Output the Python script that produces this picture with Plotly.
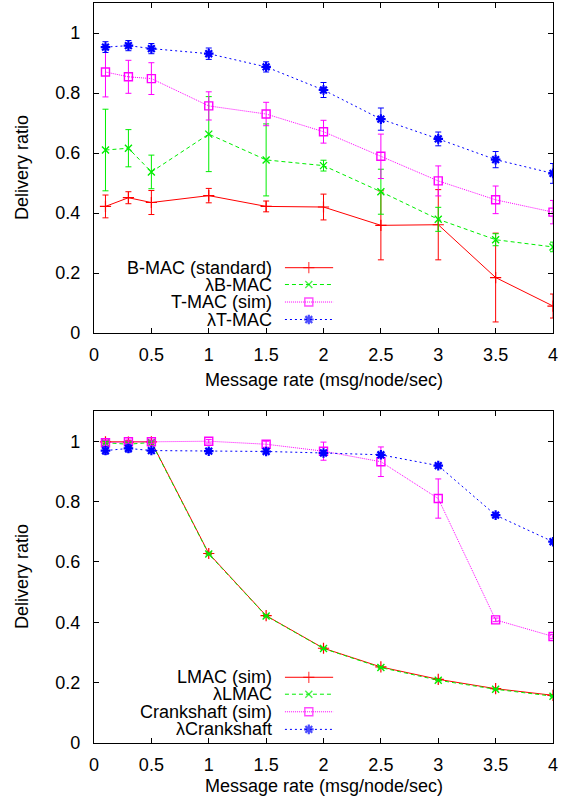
import plotly.graph_objects as go

# ---------------- data ----------------
rates = [0.1, 0.3, 0.5, 1, 1.5, 2, 2.5, 3, 3.5, 4]

# Top panel
bmac = [0.422, 0.451, 0.435, 0.458, 0.422, 0.420, 0.359, 0.361, 0.185, 0.090]
bmac_err = [0.038, 0.020, 0.040, 0.024, 0.018, 0.043, 0.115, 0.117, 0.148, 0.040]
lbmac = [0.610, 0.616, 0.537, 0.663, 0.577, 0.558, 0.471, 0.379, 0.311, 0.287]
lbmac_err = [0.136, 0.062, 0.056, 0.125, 0.120, 0.018, 0.075, 0.040, 0.020, 0.016]
tmac = [0.870, 0.854, 0.848, 0.757, 0.730, 0.671, 0.589, 0.507, 0.444, 0.403]
tmac_err = [0.083, 0.055, 0.053, 0.047, 0.039, 0.038, 0.074, 0.050, 0.046, 0.039]
ltmac = [0.953, 0.958, 0.948, 0.931, 0.887, 0.810, 0.713, 0.647, 0.578, 0.532]
ltmac_err = [0.018, 0.017, 0.017, 0.019, 0.017, 0.025, 0.037, 0.023, 0.027, 0.033]

# Bottom panel
lmac = [0.998, 0.997, 0.998, 0.628, 0.422, 0.314, 0.252, 0.211, 0.180, 0.158]
lmac_err = [0.005, 0.005, 0.004, 0.004, 0.003, 0.003, 0.003, 0.003, 0.002, 0.002]
llmac = [0.995, 0.990, 0.996, 0.626, 0.421, 0.313, 0.250, 0.208, 0.178, 0.155]
llmac_err = [0.004, 0.004, 0.004, 0.003, 0.003, 0.003, 0.002, 0.002, 0.002, 0.002]
crank = [0.995, 0.998, 0.998, 1.000, 0.990, 0.967, 0.932, 0.810, 0.408, 0.353]
crank_err = [0.008, 0.006, 0.006, 0.006, 0.010, 0.030, 0.049, 0.065, 0.006, 0.006]
lcrank = [0.969, 0.976, 0.969, 0.967, 0.966, 0.961, 0.955, 0.919, 0.755, 0.667]
lcrank_err = [0.012, 0.012, 0.006, 0.006, 0.006, 0.005, 0.005, 0.005, 0.004, 0.004]

x_ticks = [0, 0.5, 1, 1.5, 2, 2.5, 3, 3.5, 4]
x_ticktext = ["0", "0.5", "1", "1.5", "2", "2.5", "3", "3.5", "4"]
y_ticks = [0, 0.2, 0.4, 0.6, 0.8, 1]
y_ticktext = ["0", "0.2", "0.4", "0.6", "0.8", "1"]

top_names = ["B-MAC (standard)", "\u03bbB-MAC", "T-MAC (sim)", "\u03bbT-MAC"]
bot_names = ["LMAC (sim)", "\u03bbLMAC", "Crankshaft (sim)", "\u03bbCrankshaft"]

# ---------------- styles ----------------
FONT = "Liberation Sans, Arial, sans-serif"
FS = 18
styles = [
    dict(color="#ff0000", dash="solid", symbol="cross-thin-open", size=8, mlw=1.2),
    dict(color="#00ee00", dash="4px,3px", symbol="x-thin-open", size=7, mlw=1.4),
    dict(color="#ff00ff", dash="1px,1px", symbol="square-open", size=8, mlw=1.4),
    dict(color="#0000ff", dash="2px,3px", symbol="asterisk-open", size=8, mlw=2.2),
]

fig = go.Figure()

top_series = [(bmac, bmac_err), (lbmac, lbmac_err), (tmac, tmac_err), (ltmac, ltmac_err)]
bot_series = [(lmac, lmac_err), (llmac, llmac_err), (crank, crank_err), (lcrank, lcrank_err)]


def add_series(series, xa, ya):
    for (vals, errs), st in zip(series, styles):
        fig.add_trace(go.Scatter(
            x=rates, y=vals, xaxis=xa, yaxis=ya, mode="lines+markers",
            line=dict(color=st["color"], width=1, dash=st["dash"]),
            marker=dict(symbol=st["symbol"], size=st["size"], color=st["color"],
                        line=dict(color=st["color"], width=st["mlw"])),
            error_y=dict(type="data", array=errs, visible=True, color=st["color"],
                         thickness=1, width=3),
            showlegend=False, hoverinfo="skip",
        ))


add_series(top_series, "x", "y")
add_series(bot_series, "x2", "y2")

# manual gnuplot-style legends on overlay axes (0..1 coordinates)
leg_rows = [0.198, 0.147, 0.094, 0.041]
samp_x = [0.416, 0.468, 0.521]
text_x = 0.390


def add_legend(names, xa, ya):
    for name, st, ry in zip(names, styles, leg_rows):
        fig.add_trace(go.Scatter(
            x=samp_x, y=[ry, ry, ry], xaxis=xa, yaxis=ya, mode="lines+markers",
            line=dict(color=st["color"], width=1, dash=st["dash"]),
            marker=dict(symbol=st["symbol"], size=[0, st["size"], 0], color=st["color"],
                        line=dict(color=st["color"], width=[0, st["mlw"], 0])),
            showlegend=False, hoverinfo="skip",
        ))
        fig.add_annotation(x=text_x, y=ry, xref=xa, yref=ya, text=name,
                           showarrow=False, xanchor="right", yanchor="middle",
                           borderpad=0,
                           font=dict(family=FONT, size=FS, color="black"))


add_legend(top_names, "x3", "y3")
add_legend(bot_names, "x4", "y4")

top_dom = [0.554, 1.0]
bot_dom = [0.0, 0.4486]

xcommon = dict(range=[0, 4], tickvals=x_ticks, ticktext=x_ticktext, ticks="inside",
               ticklen=5, tickcolor="black", showline=True, linecolor="black",
               linewidth=1.2, mirror="ticks", showgrid=False, zeroline=False,
               tickfont=dict(family=FONT, size=FS, color="black"),
               ticklabelstandoff=5)
ycommon = dict(range=[0, 1.1], tickvals=y_ticks, ticktext=y_ticktext, ticks="inside",
               ticklen=5, tickcolor="black", showline=True, linecolor="black",
               linewidth=1.2, mirror="ticks", showgrid=False, zeroline=False,
               tickfont=dict(family=FONT, size=FS, color="black"),
               ticklabelstandoff=9)
hidden = dict(range=[0, 1], visible=False, showgrid=False, zeroline=False)

fig.update_layout(
    width=565, height=798,
    margin=dict(l=94, r=12, t=3, b=55),
    paper_bgcolor="white", plot_bgcolor="white",
    font=dict(family=FONT, size=FS, color="black"),
    xaxis=dict(domain=[0, 1], anchor="y", **xcommon),
    yaxis=dict(domain=top_dom, anchor="x", **ycommon),
    xaxis2=dict(domain=[0, 1], anchor="y2", **xcommon),
    yaxis2=dict(domain=bot_dom, anchor="x2", **ycommon),
    xaxis3=dict(overlaying="x", anchor="y3", **hidden),
    yaxis3=dict(overlaying="y", anchor="x3", **hidden),
    xaxis4=dict(overlaying="x2", anchor="y4", **hidden),
    yaxis4=dict(overlaying="y2", anchor="x4", **hidden),
)

# axis titles
for ydom, shift in ((top_dom, -47), (bot_dom, -43)):
    fig.add_annotation(x=-72 / 459, y=(ydom[0] + ydom[1]) / 2,
                       xref="paper", yref="paper", text="Delivery ratio",
                       textangle=-90, showarrow=False, xanchor="center", yanchor="middle",
                       font=dict(family=FONT, size=FS, color="black"))
    fig.add_annotation(x=0.5, y=ydom[0], xref="paper", yref="paper", yshift=shift,
                       text="Message rate (msg/node/sec)", showarrow=False,
                       xanchor="center", yanchor="middle", borderpad=0,
                       font=dict(family=FONT, size=FS, color="black"))

fig.write_html(
    "out.html",
    config={"displayModeBar": False},
    post_script="document.body.style.margin='0';document.body.style.overflow='hidden';",
)
